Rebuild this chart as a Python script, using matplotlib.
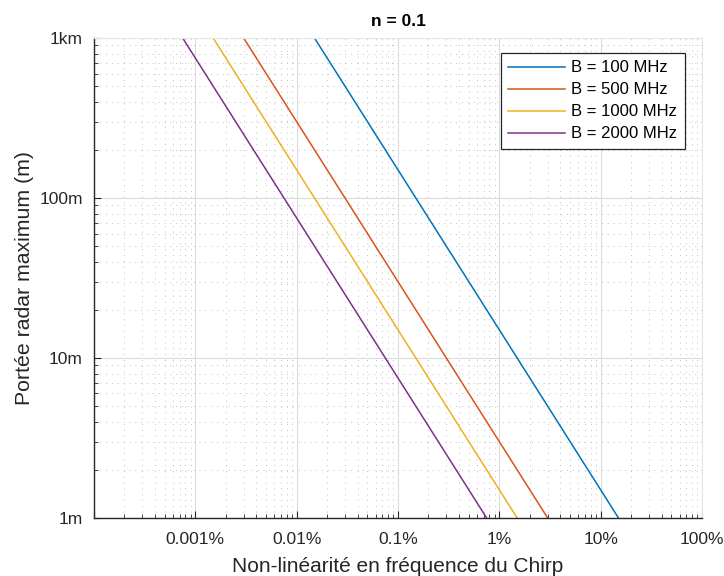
import matplotlib
matplotlib.use("Agg")
import matplotlib.pyplot as plt
from matplotlib.ticker import FixedLocator, FixedFormatter, LogLocator, NullFormatter

plt.rcParams['font.family'] = ['Liberation Sans', 'DejaVu Sans']

# Non-linéarité (en %) aux extrémités de chaque droite, portée en m
bandes = ['B = 100 MHz', 'B = 500 MHz', 'B = 1000 MHz', 'B = 2000 MHz']
nl_100 = [0.015, 15]
nl_500 = [0.003, 3]
nl_1000 = [0.0015, 1.5]
nl_2000 = [0.00075, 0.75]
portee = [1000, 1]

x_ticks = [1e-4, 1e-3, 1e-2, 1e-1, 1, 10, 100]
x_labels = ['', '0.001%', '0.01%', '0.1%', '1%', '10%', '100%']
y_ticks = [1, 10, 100, 1000]
y_labels = ['1m', '10m', '100m', '1km']

couleurs = ['#0072BD', '#D95319', '#EDB120', '#7E2F8E']

fig = plt.figure(figsize=(7.24, 5.76), dpi=100)
ax = fig.add_axes([0.1298, 0.1007, 0.8398, 0.8333])

for xs, lab, c in zip([nl_100, nl_500, nl_1000, nl_2000], bandes, couleurs):
    ax.plot(xs, portee, color=c, linewidth=1.1, label=lab)

ax.set_xscale('log')
ax.set_yscale('log')
ax.set_xlim(1e-4, 100)
ax.set_ylim(1, 1000)

ax.xaxis.set_major_locator(FixedLocator(x_ticks))
ax.xaxis.set_major_formatter(FixedFormatter(x_labels))
ax.yaxis.set_major_locator(FixedLocator(y_ticks))
ax.yaxis.set_major_formatter(FixedFormatter(y_labels))
ax.xaxis.set_minor_locator(LogLocator(base=10, subs=range(2, 10), numticks=20))
ax.yaxis.set_minor_locator(LogLocator(base=10, subs=range(2, 10), numticks=20))
ax.xaxis.set_minor_formatter(NullFormatter())
ax.yaxis.set_minor_formatter(NullFormatter())

ax.tick_params(which='both', direction='in', top=False, right=False, labelsize=12.5, colors='#262626')
ax.tick_params(which='major', length=5)
ax.tick_params(which='minor', length=3)
ax.tick_params(axis='x', which='major', pad=10)
ax.tick_params(axis='y', which='major', pad=8)

ax.grid(True, which='major', color='#dcdcdc', linewidth=0.8, linestyle='-')
ax.grid(True, which='minor', color='#c0c0c0', linewidth=0.7, linestyle=(0, (1, 5)))
ax.set_axisbelow(True)

for s in ['top', 'right']:
    ax.spines[s].set_color('#e6e6e6')
for s in ['left', 'bottom']:
    ax.spines[s].set_color('#262626')
    ax.spines[s].set_linewidth(1.0)

ax.set_title('n = 0.1', fontsize=12.5, fontweight='bold', pad=9)
ax.set_xlabel('Non-linéarité en fréquence du Chirp', fontsize=15, color='#262626', labelpad=7)
ax.set_ylabel('Portée radar maximum (m)', fontsize=15.3, color='#262626', labelpad=4)

leg = ax.legend(loc='upper right', bbox_to_anchor=(0.972, 0.969), fontsize=12,
                fancybox=False, framealpha=1, edgecolor='#262626', borderpad=0.45,
                borderaxespad=0, handlelength=3.4, labelspacing=0.42, handletextpad=0.4)
leg.get_frame().set_linewidth(0.9)

fig.savefig('out.png', dpi=100)
